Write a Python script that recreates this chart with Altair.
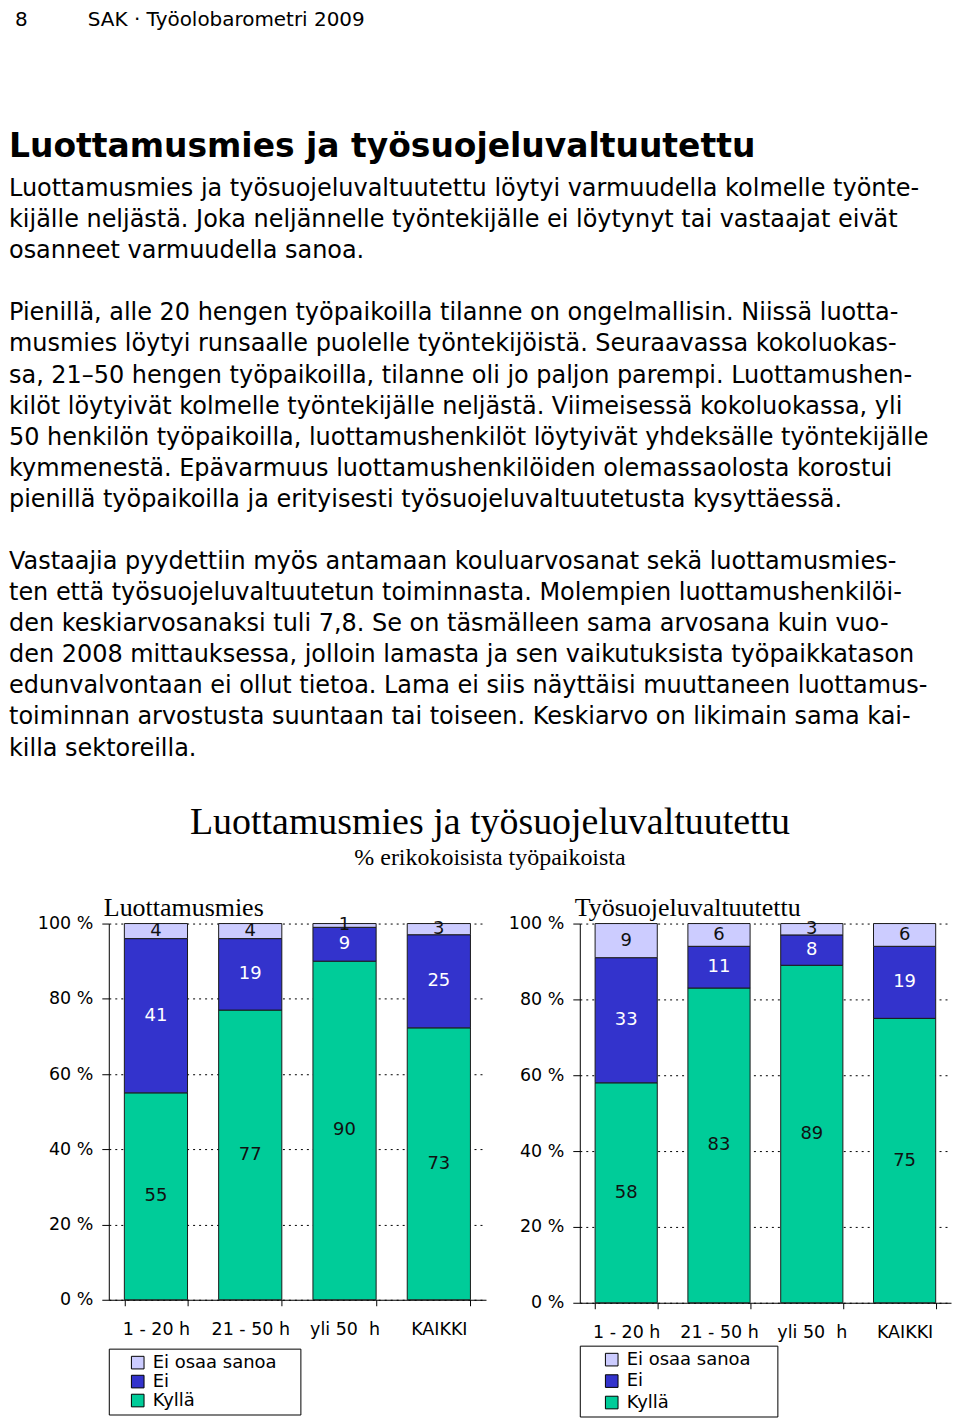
import altair as alt
import pandas as pd

# ---------------- data ----------------
categories = ["1 - 20 h", "21 - 50 h", "yli 50\u00a0 h", "KAIKKI"]
responses = ["Ei osaa sanoa", "Ei", "Kyllä"]
colors = ["#CCCCFF", "#3333CC", "#00CC99"]

luott_kylla = [55, 77, 90, 73]
luott_ei = [41, 19, 9, 25]
luott_eos = [4, 4, 1, 3]

tyos_kylla = [58, 83, 89, 75]
tyos_ei = [33, 11, 8, 19]
tyos_eos = [9, 6, 3, 6]

y_ticks = [0, 0.2, 0.4, 0.6, 0.8, 1.0]

# ---------------- page text ----------------
page_number = "8"
running_head = "SAK · Työolobarometri 2009"
heading = "Luottamusmies ja työsuojeluvaltuutettu"
para1 = [
    "Luottamusmies ja työsuojeluvaltuutettu löytyi varmuudella kolmelle työnte-",
    "kijälle neljästä. Joka neljännelle työntekijälle ei löytynyt tai vastaajat eivät",
    "osanneet varmuudella sanoa.",
]
para2 = [
    "Pienillä, alle 20 hengen työpaikoilla tilanne on ongelmallisin. Niissä luotta-",
    "musmies löytyi runsaalle puolelle työntekijöistä. Seuraavassa kokoluokas-",
    "sa, 21–50 hengen työpaikoilla, tilanne oli jo paljon parempi. Luottamushen-",
    "kilöt löytyivät kolmelle työntekijälle neljästä. Viimeisessä kokoluokassa, yli",
    "50 henkilön työpaikoilla, luottamushenkilöt löytyivät yhdeksälle työntekijälle",
    "kymmenestä. Epävarmuus luottamushenkilöiden olemassaolosta korostui",
    "pienillä työpaikoilla ja erityisesti työsuojeluvaltuutetusta kysyttäessä.",
]
para3 = [
    "Vastaajia pyydettiin myös antamaan kouluarvosanat sekä luottamusmies-",
    "ten että työsuojeluvaltuutetun toiminnasta. Molempien luottamushenkilöi-",
    "den keskiarvosanaksi tuli 7,8. Se on täsmälleen sama arvosana kuin vuo-",
    "den 2008 mittauksessa, jolloin lamasta ja sen vaikutuksista työpaikkatason",
    "edunvalvontaan ei ollut tietoa. Lama ei siis näyttäisi muuttaneen luottamus-",
    "toiminnan arvostusta suuntaan tai toiseen. Keskiarvo on likimain sama kai-",
    "killa sektoreilla.",
]
chart_title = "Luottamusmies ja työsuojeluvaltuutettu"
chart_subtitle = "% erikokoisista työpaikoista"
panel_titles = ["Luottamusmies", "Työsuojeluvaltuutettu"]

SANS = "DejaVu Sans"
SERIF = "Liberation Serif"

one = pd.DataFrame({"k": [0]})

# the text block's origin is aligned with the left plot's origin (100 px in)
OX = -100


def txt(text, x, y, size, font=SANS, weight="normal", align="left", line_height=None):
    kw = dict(text=text, font=font, fontSize=size, fontWeight=weight, align=align,
              baseline="alphabetic", color="#000000")
    if line_height is not None:
        kw["lineHeight"] = line_height
    return alt.Chart(one).mark_text(**kw).encode(x=alt.value(x + OX), y=alt.value(y))


text_block = alt.layer(
    txt(heading, 0, 147, 33, weight="bold"),
    txt(page_number, 6, 16, 20),
    txt(running_head, 79, 16, 20),
    txt(para1, 0, 185.5, 24, line_height=31.2),
    txt(para2, 0, 310.5, 24, line_height=31.2),
    txt(para3, 0, 559.5, 24, line_height=31.2),
    txt(chart_title, 482, 825, 38, font=SERIF, align="center"),
    txt(chart_subtitle, 482, 856, 24, font=SERIF, align="center"),
).properties(width=844, height=872)


def panel(title, kylla, ei, eos, width, height, min_extent, legend_y,
          legend_pad, row_pad, sym_off, title_pad):
    rows = []
    for i, c in enumerate(categories):
        for resp, vals, order in (("Kyllä", kylla, 0), ("Ei", ei, 1), ("Ei osaa sanoa", eos, 2)):
            rows.append({"luokka": c, "vastaus": resp, "arvo": vals[i], "jarj": order})
    df = pd.DataFrame(rows)

    x_axis = alt.Axis(title=None, labelAngle=0, tickBand="extent", tickSize=6, labelPadding=15,
                      labelFont=SANS, labelFontSize=17.5, labelColor="#000000",
                      domainColor="#000000", tickColor="#000000", grid=False)
    x = alt.X("luokka:N", sort=categories,
              scale=alt.Scale(paddingInner=0.33, paddingOuter=0.165), axis=x_axis)

    y_axis = alt.Axis(title=None, values=y_ticks,
                      labelExpr="format(datum.value * 100, 'd') + ' %'",
                      grid=True, gridDash=[2, 4], gridColor="#000000", gridWidth=1,
                      tickSize=7, labelPadding=9, minExtent=min_extent, maxExtent=300,
                      labelFont=SANS, labelFontSize=17.5, labelColor="#000000",
                      domainColor="#000000", tickColor="#000000")

    base = alt.Chart(df).transform_stack(
        stack="arvo", groupby=["luokka"], as_=["y0", "y1"], offset="normalize",
        sort=[alt.SortField("jarj", order="ascending")],
    ).transform_calculate(mid="(datum.y0 + datum.y1) / 2")

    bars = base.mark_bar(stroke="#1a1a1a", strokeWidth=1).encode(
        x=x,
        y=alt.Y("y0:Q", scale=alt.Scale(domain=[0, 1]), axis=y_axis),
        y2="y1:Q",
        color=alt.Color(
            "vastaus:N",
            scale=alt.Scale(domain=responses, range=colors),
            legend=alt.Legend(
                # an invisible title on the right only widens the framed box
                title="MM", titleOrient="right", titleColor="transparent",
                titleFontSize=8, titleFont=SANS, titlePadding=title_pad,
                orient="none", legendX=0, legendY=legend_y, direction="vertical",
                strokeColor="#000000", padding=legend_pad, rowPadding=row_pad,
                symbolType="square", symbolSize=160, symbolStrokeColor="#000000",
                symbolStrokeWidth=1, symbolOffset=sym_off, labelOffset=6,
                labelFont=SANS, labelFontSize=18, labelColor="#000000",
            ),
        ),
    )

    labels = base.mark_text(font=SANS, fontSize=18, baseline="middle").encode(
        x=alt.X("luokka:N", sort=categories),
        y=alt.Y("mid:Q", title=None),
        text=alt.Text("arvo:Q"),
        color=alt.condition(alt.datum.vastaus == "Ei", alt.value("#ffffff"), alt.value("#111111")),
    )

    head = alt.Chart(pd.DataFrame({"t": [title]})).mark_text(
        font=SERIF, fontSize=26, align="left", baseline="alphabetic", color="#000000"
    ).encode(x=alt.value(-5), y=alt.value(-8), text="t:N")

    return alt.layer(bars, labels, head).properties(width=width, height=height)


left = panel(panel_titles[0], luott_kylla, luott_ei, luott_eos, 378, 377, 100, 426,
             5, 1, 15, 3)
right = panel(panel_titles[1], tyos_kylla, tyos_ei, tyos_eos, 372, 380, 92, 423,
              5, 3.5, 18, 6)

panels = alt.hconcat(left, right, spacing=0).resolve_scale(color="independent")

chart = alt.vconcat(text_block, panels, spacing=12).properties(
    padding=0
).configure_view(stroke="transparent").configure_text(font=SANS)

chart.save("out.html", embed_options={"renderer": "svg", "actions": False})
